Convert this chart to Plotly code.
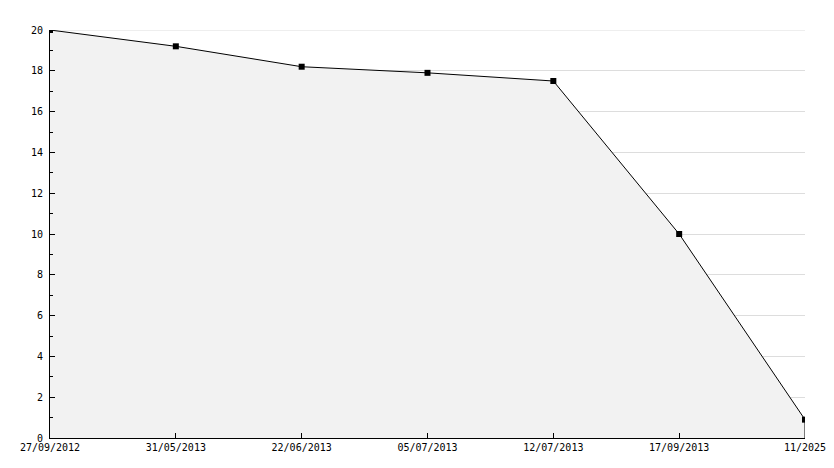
import plotly.graph_objects as go

dates = ["27/09/2012", "31/05/2013", "22/06/2013", "05/07/2013", "12/07/2013", "17/09/2013", "11/2025"]
values = [20, 19.2, 18.2, 17.9, 17.5, 10, 0.9]
y_ticks = [0, 2, 4, 6, 8, 10, 12, 14, 16, 18, 20]

fig = go.Figure()
fig.add_trace(go.Scatter(
    x=dates, y=values, mode="lines+markers",
    fill="tozeroy", fillcolor="#f2f2f2",
    line=dict(color="black", width=1),
    marker=dict(symbol="square", size=6, color="black"),
    showlegend=False, hoverinfo="skip",
))
# right edge of the filled area
fig.add_trace(go.Scatter(
    x=[dates[-1], dates[-1]], y=[0, values[-1]], mode="lines",
    line=dict(color="black", width=1), showlegend=False, hoverinfo="skip",
))

fig.update_layout(
    width=834, height=468,
    margin=dict(l=42, r=37, t=22, b=38),
    plot_bgcolor="white", paper_bgcolor="white",
    font=dict(family="DejaVu Sans Mono, DejaVu Sans", size=10, color="black"),
    shapes=[dict(type="line", xref="paper", yref="y", x0=0, x1=1,
                 y0=y_ticks[-1], y1=y_ticks[-1], line=dict(color="#dddddd", width=1),
                 layer="below")],
)
fig.update_xaxes(
    type="category", categoryorder="array", categoryarray=dates,
    range=[0, len(dates) - 1],
    showgrid=False, zeroline=False,
    showline=True, linecolor="black", linewidth=1,
    ticks="inside", ticklen=5, tickcolor="black",
    tickfont=dict(size=10), automargin=False,
)
fig.update_yaxes(
    range=[0, 20], tickvals=y_ticks,
    showgrid=True, gridcolor="#dddddd", gridwidth=1,
    zeroline=False,
    showline=True, linecolor="black", linewidth=1,
    ticks="inside", ticklen=5, tickcolor="black",
    minor=dict(dtick=1, ticks="inside", ticklen=3, tickcolor="black", showgrid=False),
    tickfont=dict(size=10), ticklabelstandoff=4, automargin=False,
)
fig.write_html("out.html")
